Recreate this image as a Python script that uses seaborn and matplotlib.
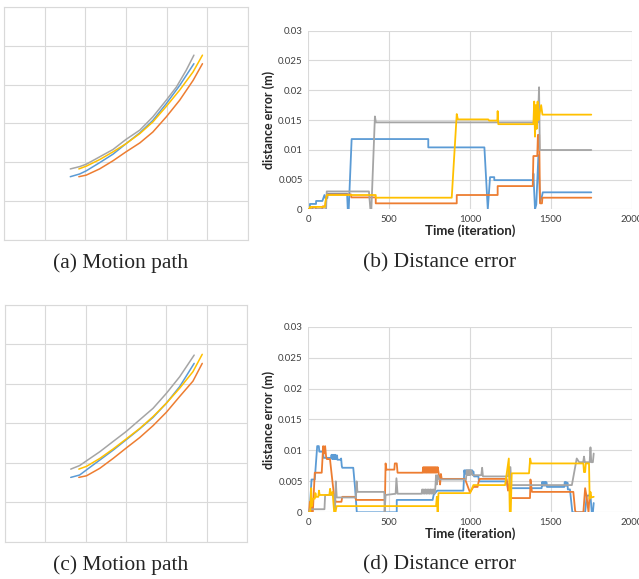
import numpy as np
import pandas as pd
import matplotlib
matplotlib.use("Agg")
import matplotlib.pyplot as plt
import seaborn as sns

'''motion path (a) : grid units'''
a_gray_x = [1.63, 1.86, 2.02, 2.35, 2.68, 3.00, 3.34, 3.66, 3.99, 4.24, 4.48, 4.67]
a_gray_y = [1.83, 1.89, 1.95, 2.14, 2.33, 2.59, 2.83, 3.17, 3.60, 3.94, 4.37, 4.76]
a_yellow_x = [1.84, 2.02, 2.35, 2.68, 3.00, 3.34, 3.66, 3.99, 4.32, 4.65, 4.88]
a_yellow_y = [1.83, 1.90, 2.07, 2.27, 2.48, 2.74, 3.04, 3.44, 3.86, 4.33, 4.76]
a_blue_x = [1.63, 1.86, 2.02, 2.35, 2.68, 3.00, 3.34, 3.66, 3.99, 4.32, 4.67]
a_blue_y = [1.63, 1.70, 1.78, 1.99, 2.21, 2.48, 2.76, 3.08, 3.51, 3.98, 4.54]
a_orange_x = [1.84, 2.02, 2.35, 2.68, 3.00, 3.34, 3.66, 3.99, 4.32, 4.65, 4.88]
a_orange_y = [1.63, 1.67, 1.83, 2.04, 2.27, 2.50, 2.78, 3.17, 3.60, 4.11, 4.54]

'''motion path (c)'''
c_gray_x = [1.63, 1.85, 2.02, 2.35, 2.68, 3.00, 3.34, 3.67, 4.00, 4.33, 4.69]
c_gray_y = [1.84, 1.93, 2.05, 2.28, 2.54, 2.79, 3.09, 3.38, 3.76, 4.18, 4.73]
c_yellow_x = [1.83, 2.02, 2.35, 2.68, 3.00, 3.34, 3.67, 4.00, 4.33, 4.66, 4.89]
c_yellow_y = [1.84, 1.91, 2.11, 2.35, 2.60, 2.87, 3.17, 3.51, 3.89, 4.31, 4.75]
c_blue_x = [1.63, 1.85, 2.02, 2.35, 2.68, 3.00, 3.34, 3.67, 4.00, 4.33, 4.69]
c_blue_y = [1.63, 1.69, 1.82, 2.07, 2.32, 2.58, 2.86, 3.15, 3.51, 3.93, 4.52]
c_orange_x = [1.83, 2.02, 2.35, 2.68, 3.00, 3.34, 3.67, 4.00, 4.33, 4.66, 4.89]
c_orange_y = [1.63, 1.67, 1.86, 2.11, 2.37, 2.64, 2.94, 3.28, 3.68, 4.07, 4.52]

'''distance error (b)'''
b_blue_t = [0, 10, 10, 48, 48, 87, 100, 105, 118, 120, 240, 244, 250, 268, 742, 742, 1089, 1110, 1124, 1150, 1150,
            1390, 1392, 1402, 1410, 1423, 1433, 1445, 1450, 1750]
b_blue_v = [0, 0, 0.0009, 0.0009, 0.0014, 0.0014, 0.0024, 0.0019, 0.0019, 0.0026, 0.0026, 0, 0, 0.0118, 0.0118, 0.0104,
            0.0104, 0, 0.0054, 0.0054, 0.0049, 0.0049, 0.006, 0, 0.0008, 0.0091, 0.0012, 0.0022, 0.00285, 0.00285]
b_orange_t = [0, 25, 28, 45, 48, 85, 90, 105, 115, 264, 266, 417, 417, 918, 918, 1171, 1171, 1388, 1392, 1416, 1420,
              1428, 1433, 1445, 1448, 1750]
b_orange_v = [0, 0, 0.0004, 0.0004, 0, 0, 0.0005, 0.0005, 0.0025, 0.0025, 0.002, 0.002, 0.001, 0.001, 0.0024, 0.0024,
              0.0039, 0.0039, 0.00895, 0.00895, 0.0125, 0.0125, 0.001, 0.001, 0.00195, 0.00195]
b_gray_t = [0, 110, 114, 375, 384, 390, 412, 418, 1392, 1398, 1404, 1420, 1427, 1432, 1750]
b_gray_v = [0, 0, 0.003, 0.003, 0, 0, 0.0156, 0.0146, 0.0146, 0.015, 0.0144, 0.0146, 0.0205, 0.00996, 0.00996]
b_yellow_t = [0, 10, 10, 103, 106, 115, 417, 417, 887, 918, 925, 1113, 1118, 1169, 1171, 1175, 1392, 1397, 1402,
              1407, 1412, 1418, 1424, 1430, 1440, 1448, 1750]
b_yellow_v = [0, 0, 0.0004, 0.0004, 0.0013, 0.0024, 0.0024, 0.00195, 0.00195, 0.016, 0.0151, 0.0151, 0.0149, 0.0149,
              0.0165, 0.0143, 0.0143, 0.0181, 0.0122, 0.0175, 0.0135, 0.0181, 0.015, 0.016, 0.0175, 0.0159, 0.0159]

'''distance error (d)'''
d_blue_t = [0, 8, 20, 40, 55, 65, 68, 90, 95, 140, 144, 148, 152, 156, 160, 164, 168, 172, 178, 180, 200, 203, 207,
            210, 278, 289, 300, 547, 547, 769, 775, 797, 959, 965, 969, 973, 977, 981, 985, 989, 993, 997, 1001, 1005,
            1009, 1013, 1017, 1021, 1025, 1052, 1055, 1227, 1235, 1443, 1446, 1450, 1454, 1458, 1462, 1466, 1470, 1474,
            1476, 1583, 1586, 1590, 1594, 1598, 1603, 1605, 1618, 1633, 1712, 1722, 1745, 1753, 1760, 1765]
d_blue_v = [0, 0, 0.0053, 0.0053, 0.0107, 0.0107, 0.0098, 0.0098, 0.0088, 0.0088, 0.0093, 0.0086, 0.0093, 0.0086,
            0.0093, 0.0086, 0.0093, 0.0086, 0.0092, 0.0085, 0.0085, 0.0087, 0.0075, 0.0072, 0.0072, 0.004, 0, 0, 0.002,
            0.002, 0.0028, 0.0035, 0.0035, 0.0068, 0.0062, 0.0068, 0.0062, 0.0068, 0.0062, 0.0068, 0.0062, 0.0068,
            0.0062, 0.0068, 0.0062, 0.0068, 0.0062, 0.0066, 0.0058, 0.0058, 0.005, 0.005, 0.0039, 0.0039, 0.0049,
            0.0043, 0.0049, 0.0043, 0.0049, 0.0043, 0.0049, 0.0048, 0.0041, 0.0041, 0.0049, 0.0043, 0.0049, 0.0043,
            0.0048, 0.0037, 0.0037, 0, 0, 0.0027, 0.0027, 0, 0, 0.0015]
d_orange_t = [0, 5, 10, 18, 22, 28, 40, 83, 92, 98, 104, 110, 115, 134, 145, 160, 170, 205, 210, 290, 295, 474, 478,
              483, 532, 535, 547, 552, 707, 711, 715, 719, 723, 727, 731, 735, 739, 743, 747, 751, 755, 759, 763, 767,
              771, 775, 779, 783, 787, 791, 795, 800, 806, 810, 815, 820, 825, 969, 1000, 1021, 1047, 1052, 1060, 1227,
              1235, 1245, 1255, 1371, 1374, 1383, 1639, 1650, 1655, 1701, 1712, 1720, 1733, 1740, 1750]
d_orange_v = [0, 0, 0.0017, 0.0017, 0, 0, 0.0064, 0.0064, 0.0107, 0.0095, 0.0107, 0.009, 0.0086, 0.0086, 0.006,
              0.0025, 0.0017, 0.0017, 0.0025, 0.0025, 0.002, 0.002, 0.0079, 0.0069, 0.0069, 0.0079, 0.0079, 0.0064,
              0.0064, 0.0073, 0.0064, 0.0073, 0.0064, 0.0073, 0.0064, 0.0073, 0.0064, 0.0073, 0.0064, 0.0073, 0.0064,
              0.0073, 0.0064, 0.0073, 0.0064, 0.0073, 0.0064, 0.0073, 0.0064, 0.0073, 0.0064, 0.0073, 0.0064, 0.0056,
              0.0045, 0.0062, 0.0054, 0.0054, 0.0032, 0.0041, 0.0041, 0.0048, 0.0054, 0.0054, 0.0035, 0.0048, 0.0023,
              0.0023, 0.0053, 0.0033, 0.0033, 0.0003, 0, 0, 0.0039, 0.0027, 0, 0.003, 0.0025]
d_gray_t = [0, 8, 10, 100, 104, 160, 165, 170, 176, 295, 299, 304, 470, 472, 478, 540, 545, 552, 700, 705, 710, 715,
            720, 725, 730, 735, 740, 745, 750, 755, 760, 765, 770, 775, 780, 785, 790, 795, 800, 810, 975, 980, 984,
            988, 992, 996, 1000, 1004, 1010, 1015, 1070, 1075, 1080, 1235, 1240, 1250, 1255, 1630, 1660, 1675, 1700,
            1705, 1710, 1740, 1745, 1750, 1760, 1765]
d_gray_v = [0, 0, 0.0005, 0.0005, 0.0028, 0.0028, 0, 0.005, 0.0024, 0.0024, 0.005, 0.0033, 0.0033, 0, 0.0028, 0.003,
            0.0055, 0.003, 0.003, 0.0037, 0.003, 0.0037, 0.003, 0.0037, 0.003, 0.0037, 0.003, 0.0037, 0.003, 0.0037,
            0.003, 0.0037, 0.003, 0.0037, 0.003, 0.0037, 0.006, 0.0045, 0.006, 0.0053, 0.0053, 0.0068, 0.006, 0.0068,
            0.006, 0.0068, 0.006, 0.0068, 0.0066, 0.006, 0.006, 0.0072, 0.0058, 0.0058, 0.0073, 0.0073, 0.0044, 0.0044,
            0.0087, 0.0081, 0.0081, 0.009, 0.0081, 0.0081, 0.0105, 0.0081, 0.0081, 0.0095]
d_yellow_t = [0, 12, 18, 22, 28, 40, 44, 48, 62, 66, 70, 130, 135, 140, 150, 160, 168, 175, 790, 795, 800, 805, 1000,
              1021, 1217, 1240, 1246, 1252, 1258, 1365, 1372, 1378, 1701, 1705, 1712, 1716, 1736, 1740, 1745, 1750,
              1765]
d_yellow_v = [0, 0, 0.0039, 0.001, 0.0022, 0.0022, 0.0031, 0.0025, 0.0025, 0.0035, 0.0028, 0.0028, 0.0038, 0.0028,
              0.0033, 0, 0, 0.001, 0.001, 0.0025, 0, 0.0031, 0.0031, 0.0044, 0.0044, 0.0087, 0, 0, 0.0063, 0.0063,
              0.0087, 0.0079, 0.0079, 0.0065, 0.0065, 0.0079, 0.0079, 0.0022, 0.0033, 0.0024, 0.0025]

y_ticks = [0, 0.005, 0.01, 0.015, 0.02, 0.025, 0.03]
y_ticklabels = ['0', '0.005', '0.01', '0.015', '0.02', '0.025', '0.03']
x_ticks = [0, 500, 1000, 1500, 2000]
captions = ['(a) Motion path', '(b) Distance error', '(c) Motion path', '(d) Distance error']

blue, orange, gray, yellow = '#5B9BD5', '#ED7D31', '#A5A5A5', '#FFC000'
grid_c = '#D9D9D9'

sns.set_style('white')
plt.rcParams['font.family'] = ['Lato', 'DejaVu Sans']

fig = plt.figure(figsize=(6.39, 5.79), dpi=100)


def path_panel(rect, series):
    ax = fig.add_axes(rect)
    for x, y, c in series:
        sns.lineplot(x=x, y=y, ax=ax, color=c, lw=1.1, sort=False, estimator=None)
    ax.set_xlim(0, 6)
    ax.set_ylim(0, 6)
    ax.set_xticks(range(7))
    ax.set_yticks(range(7))
    ax.grid(True, color=grid_c, lw=0.8)
    ax.tick_params(length=0, labelbottom=False, labelleft=False)
    ax.set_xlabel('')
    ax.set_ylabel('')
    for s in ax.spines.values():
        s.set_color(grid_c)
        s.set_linewidth(0.8)
    return ax


def error_panel(rect, series):
    ax = fig.add_axes(rect)
    for t, v, c in series:
        sns.lineplot(x=t, y=v, ax=ax, color=c, lw=1.3, sort=False, estimator=None)
    ax.set_xlim(0, 2000)
    ax.set_ylim(0, 0.03)
    ax.set_xticks(x_ticks)
    ax.set_xticklabels([str(t) for t in x_ticks], fontsize=7, color='#404040')
    ax.set_yticks(y_ticks)
    ax.set_yticklabels(y_ticklabels, fontsize=7, color='#404040')
    ax.grid(True, color=grid_c, lw=0.8)
    ax.tick_params(length=0, pad=4)
    for s in ax.spines.values():
        s.set_visible(False)
    ax.set_xlabel('Time (iteration)', fontsize=9.5, fontweight='bold', labelpad=0)
    ax.set_ylabel('distance error (m)', fontsize=9, fontweight='bold', labelpad=2)
    return ax


path_panel([4 / 639, 1 - 240 / 579, 244 / 639, 233 / 579],
           [(a_blue_x, a_blue_y, blue), (a_orange_x, a_orange_y, orange),
            (a_gray_x, a_gray_y, gray), (a_yellow_x, a_yellow_y, yellow)])
path_panel([5 / 639, 1 - 541.7 / 579, 242 / 639, 236.7 / 579],
           [(c_blue_x, c_blue_y, blue), (c_orange_x, c_orange_y, orange),
            (c_gray_x, c_gray_y, gray), (c_yellow_x, c_yellow_y, yellow)])
error_panel([308.3 / 639, 1 - 209.3 / 579, 323.4 / 639, 178.6 / 579],
            [(b_blue_t, b_blue_v, blue), (b_orange_t, b_orange_v, orange),
             (b_gray_t, b_gray_v, gray), (b_yellow_t, b_yellow_v, yellow)])
error_panel([308.3 / 639, 1 - 512.3 / 579, 323.4 / 639, 185.6 / 579],
            [(d_blue_t, d_blue_v, blue), (d_orange_t, d_orange_v, orange),
             (d_gray_t, d_gray_v, gray), (d_yellow_t, d_yellow_v, yellow)])

'''captions'''
cap_pos = [(121, 263), (440, 263), (121, 565), (440, 565)]
for (px, py), txt in zip(cap_pos, captions):
    fig.text(px / 639, 1 - py / 579, txt, ha='center', va='center', fontsize=15.5,
             family=['Liberation Serif', 'DejaVu Serif'])

fig.savefig('out.png', dpi=100)
